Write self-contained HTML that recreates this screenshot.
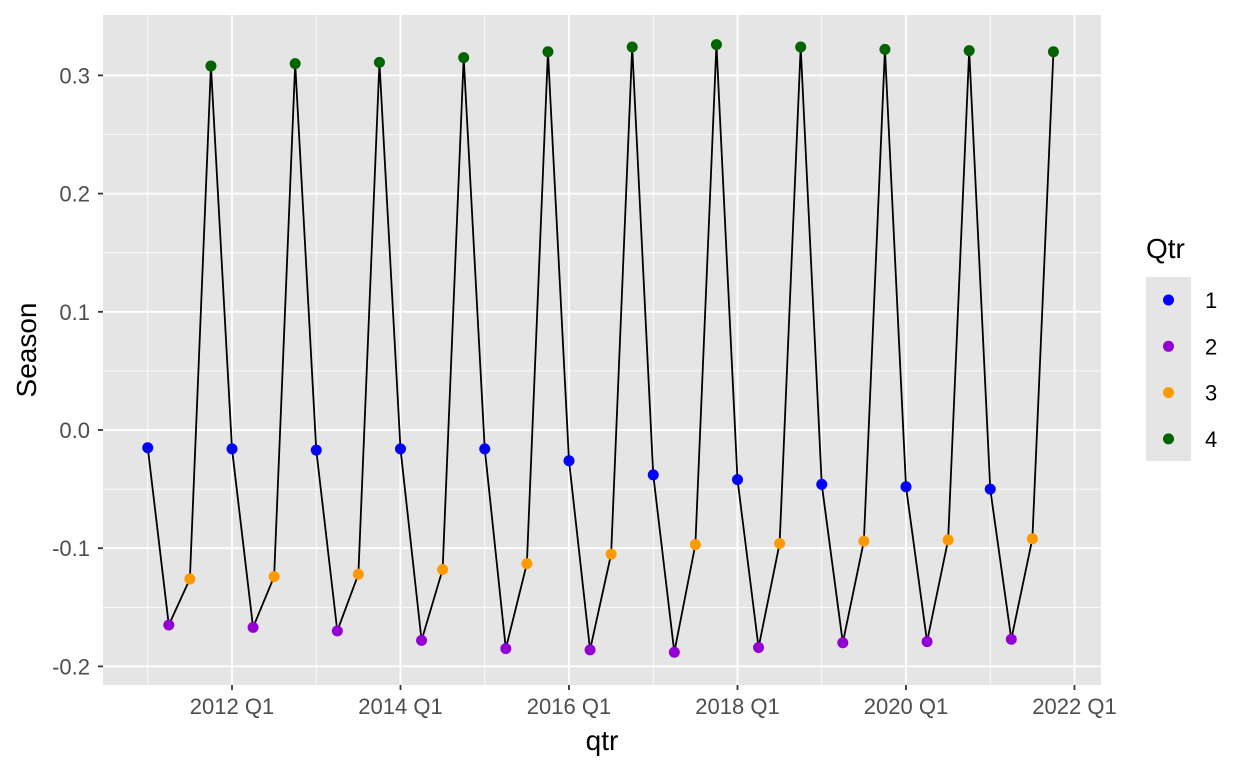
<!DOCTYPE html>
<html><head><meta charset="utf-8"><style>
body{margin:0;background:#fff;font-family:"Liberation Sans",Arial,sans-serif;}
</style></head><body>
<svg id="c" width="1248" height="768" xmlns="http://www.w3.org/2000/svg" font-family="Liberation Sans, Arial, sans-serif"></svg>
<script>
const years=[2011,2012,2013,2014,2015,2016,2017,2018,2019,2020,2021];
const q1=[-0.015,-0.016,-0.017,-0.016,-0.016,-0.026,-0.038,-0.042,-0.046,-0.048,-0.050];
const q2=[-0.165,-0.167,-0.170,-0.178,-0.185,-0.186,-0.188,-0.184,-0.180,-0.179,-0.177];
const q3=[-0.126,-0.124,-0.122,-0.118,-0.113,-0.105,-0.097,-0.096,-0.094,-0.093,-0.092];
const q4=[0.308,0.310,0.311,0.315,0.320,0.324,0.326,0.324,0.322,0.321,0.320];
const yTicks=[-0.2,-0.1,0.0,0.1,0.2,0.3];
const yTickLabels=["-0.2","-0.1","0.0","0.1","0.2","0.3"];
const xTicks=[2012,2014,2016,2018,2020,2022];
const colors=["#0000ff","#9400d3","#ff9900","#006400"];
const NS="http://www.w3.org/2000/svg";
const svg=document.getElementById('c');
const L=103,R=1101,T=15,B=685;
const x=t=>232+(t-2012)*84.25;
const y=v=>430-v*1182;
function mk(tag,a,p){const e=document.createElementNS(NS,tag);for(const k in a)e.setAttribute(k,a[k]);(p||svg).appendChild(e);return e;}
const bg=mk('rect',{x:L,y:T,width:R-L,height:B-T,fill:'#e5e5e5'});


for(let i=0;i<yTicks.length-1;i++){const m=(yTicks[i]+yTicks[i+1])/2;const g=mk('line',{x1:L,x2:R,y1:y(m),y2:y(m),stroke:'#fff','stroke-width':0.8});

}
for(const t of [2011,2013,2015,2017,2019,2021]){const g=mk('line',{x1:x(t),x2:x(t),y1:T,y2:B,stroke:'#fff','stroke-width':0.8});

}
yTicks.forEach((v,i)=>{const g=mk('line',{x1:L,x2:R,y1:y(v),y2:y(v),stroke:'#fff','stroke-width':1.8});


mk('line',{x1:L-5,x2:L,y1:y(v),y2:y(v),stroke:'#333','stroke-width':1.8});
const tx=mk('text',{x:L-13,y:y(v)+8,'text-anchor':'end','font-size':22,fill:'#4d4d4d'});tx.textContent=yTickLabels[i];

});
xTicks.forEach(t=>{const g=mk('line',{x1:x(t),x2:x(t),y1:T,y2:B,stroke:'#fff','stroke-width':1.8});


mk('line',{x1:x(t),x2:x(t),y1:B,y2:B+5,stroke:'#333','stroke-width':1.8});
const tx=mk('text',{x:x(t),y:714,'text-anchor':'middle','font-size':22,fill:'#4d4d4d'});tx.textContent=t+' Q1';

});
const pts=[];const series=[q1,q2,q3,q4];
years.forEach((yr,i)=>{for(let q=0;q<4;q++)pts.push([yr+q/4,series[q][i],q]);});
const line=mk('polyline',{points:pts.map(p=>x(p[0])+','+y(p[1])).join(' '),fill:'none',stroke:'#000','stroke-width':1.8});


pts.forEach(p=>{const c=mk('circle',{cx:x(p[0]),cy:y(p[1]),r:5.5,fill:colors[p[2]]});

});
const xt=mk('text',{x:(L+R)/2,y:750,'text-anchor':'middle','font-size':28,fill:'#000'});xt.textContent='qtr';


const yt=mk('text',{x:0,y:0,'text-anchor':'middle','font-size':28,fill:'#000',transform:'translate(36,350) rotate(-90)'});yt.textContent='Season';


const lt=mk('text',{x:1146,y:258,'font-size':28,fill:'#000'});lt.textContent='Qtr';


const lb=mk('rect',{x:1146,y:277,width:45,height:184,fill:'#e5e5e5'});


colors.forEach((col,i)=>{const cy=300+i*46.3;
const c=mk('circle',{cx:1168.5,cy:cy,r:5.5,fill:col});


const t=mk('text',{x:1205,y:cy+8,'font-size':22,fill:'#000'});t.textContent=String(i+1);

});
</script>
</body></html>
